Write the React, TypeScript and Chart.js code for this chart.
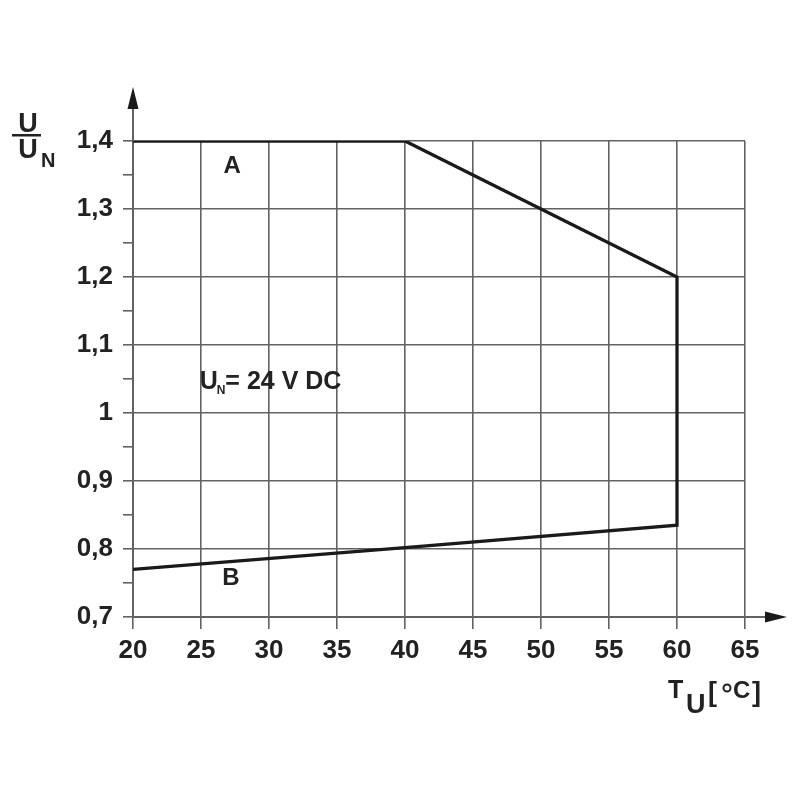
import React, { useEffect, useRef } from "react";
import { Chart, registerables } from "chart.js";

Chart.register(...registerables);

// Curve: lower limit B (left→right), then upper limit A (right→left)
const temperatures = [20, 40, 60, 60, 40, 20];
const voltageRatios = [0.77, 0.802, 0.835, 1.2, 1.4, 1.4];

const xTicks = [20, 25, 30, 35, 40, 45, 50, 55, 60, 65];
const yMajorTicks = [0.7, 0.8, 0.9, 1.0, 1.1, 1.2, 1.3, 1.4];

const curveLabels = [
  { text: "A", x: 27.3, y: 1.362 },
  { text: "B", x: 27.2, y: 0.757 },
];
const noteLabel = { main: "U", sub: "N", rest: "= 24 V DC", x: 24.9, y: 1.045 };

const FONT = '"Liberation Sans", Arial, Helvetica, sans-serif';
const GRID = "#626262";

function fmtY(v: number): string {
  const r = Math.round(v * 10) / 10;
  if (Math.abs(r - 1) < 1e-6) return "1";
  return r.toFixed(1).replace(".", ",");
}

const overlayPlugin = {
  id: "overlay",
  afterDraw(chart: any) {
    const ctx = chart.ctx;
    const area = chart.chartArea;
    const xs = chart.scales.x;
    const ys = chart.scales.y;
    ctx.save();
    // axis extensions and arrows
    ctx.strokeStyle = GRID;
    ctx.fillStyle = "#1a1a1a";
    ctx.lineWidth = 2;
    ctx.beginPath();
    ctx.moveTo(area.left, area.top);
    ctx.lineTo(area.left, area.top - 38);
    ctx.moveTo(area.right, area.bottom);
    ctx.lineTo(area.right + 25, area.bottom);
    ctx.stroke();
    // y arrow
    ctx.beginPath();
    ctx.moveTo(area.left, area.top - 54);
    ctx.lineTo(area.left - 5.5, area.top - 32);
    ctx.lineTo(area.left + 5.5, area.top - 32);
    ctx.closePath();
    ctx.fill();
    // x arrow
    ctx.beginPath();
    ctx.moveTo(area.right + 42, area.bottom);
    ctx.lineTo(area.right + 20, area.bottom - 5.5);
    ctx.lineTo(area.right + 20, area.bottom + 5.5);
    ctx.closePath();
    ctx.fill();

    ctx.fillStyle = "#222";
    ctx.textBaseline = "middle";
    // curve labels
    ctx.font = `bold 24px ${FONT}`;
    ctx.textAlign = "center";
    for (const l of curveLabels) {
      ctx.fillText(l.text, xs.getPixelForValue(l.x), ys.getPixelForValue(l.y));
    }
    // U_N = 24 V DC
    let px = xs.getPixelForValue(noteLabel.x);
    const py = ys.getPixelForValue(noteLabel.y);
    ctx.textAlign = "left";
    ctx.font = `bold 25px ${FONT}`;
    ctx.fillText(noteLabel.main, px, py);
    px += ctx.measureText(noteLabel.main).width - 1;
    ctx.font = `bold 12px ${FONT}`;
    ctx.fillText(noteLabel.sub, px, py + 8);
    px += ctx.measureText(noteLabel.sub).width;
    ctx.font = `bold 25px ${FONT}`;
    ctx.fillText(noteLabel.rest, px, py);

    // y-axis title U / U_N
    ctx.textBaseline = "alphabetic";
    ctx.textAlign = "center";
    ctx.font = `bold 27px ${FONT}`;
    ctx.fillText("U", 28, 132);
    ctx.fillRect(12, 134, 29, 2.5);
    ctx.fillText("U", 28, 158);
    ctx.font = `bold 20px ${FONT}`;
    ctx.textAlign = "left";
    ctx.fillText("N", 41, 167);

    // x-axis title T_U [°C]
    ctx.textAlign = "left";
    ctx.font = `bold 25px ${FONT}`;
    ctx.fillText("T", 668, 698);
    ctx.font = `bold 27px ${FONT}`;
    ctx.fillText("U", 686, 713);
    ctx.font = `bold 27px ${FONT}`;
    ctx.fillText("[", 708, 701);
    ctx.font = `bold 24px ${FONT}`;
    ctx.fillText("C", 733, 698);
    ctx.font = `bold 27px ${FONT}`;
    ctx.fillText("]", 752, 701);
    ctx.strokeStyle = "#222";
    ctx.lineWidth = 2;
    ctx.beginPath();
    ctx.arc(727, 688, 3.5, 0, Math.PI * 2);
    ctx.stroke();
    ctx.restore();
  },
};

export default function App() {
  const ref = useRef<HTMLCanvasElement>(null);
  useEffect(() => {
    if (!ref.current) return;
    const chart = new Chart(ref.current, {
      type: "scatter",
      data: {
        datasets: [
          {
            data: temperatures.map((t, i) => ({ x: t, y: voltageRatios[i] })),
            showLine: true,
            borderColor: "#1a1a1a",
            borderWidth: 3.3,
            pointRadius: 0,
            fill: false,
            tension: 0,
          },
        ],
      },
      options: {
        responsive: false,
        animation: false,
        devicePixelRatio: 1,
        layout: { padding: { left: 0, top: 141, right: 55, bottom: 0 } },
        plugins: { legend: { display: false }, tooltip: { enabled: false } },
        scales: {
          x: {
            type: "linear",
            min: 20,
            max: 65,
            afterBuildTicks: (s: any) => {
              s.ticks = xTicks.map((v) => ({ value: v }));
            },
            afterFit: (s: any) => {
              s.height = 183;
            },
            ticks: {
              color: "#222",
              font: { family: FONT, size: 26, weight: "bold" },
              padding: 6,
              maxRotation: 0,
              autoSkip: false,
              callback: (v: any) => String(v),
            },
            grid: { color: GRID, lineWidth: 1.6, tickLength: 12, tickColor: GRID },
            border: { color: GRID, width: 2 },
          },
          y: {
            type: "linear",
            min: 0.7,
            max: 1.4,
            afterBuildTicks: (s: any) => {
              const t: any[] = [];
              for (let i = 0; i <= 14; i++) t.push({ value: Math.round((0.7 + i * 0.05) * 100) / 100 });
              s.ticks = t;
            },
            afterFit: (s: any) => {
              s.width = 133;
            },
            ticks: {
              color: "#222",
              font: { family: FONT, size: 26, weight: "bold" },
              padding: 10,
              autoSkip: false,
              callback: (v: any) => {
                const isMajor = yMajorTicks.some((m) => Math.abs(m - v) < 1e-6);
                return isMajor ? fmtY(v) : "";
              },
            },
            grid: {
              color: (c: any) => {
                const v = c.tick ? c.tick.value : 0;
                return yMajorTicks.some((m) => Math.abs(m - v) < 1e-6) ? GRID : "rgba(0,0,0,0)";
              },
              tickColor: GRID,
              lineWidth: 1.6,
              tickLength: 10,
            },
            border: { color: GRID, width: 2 },
          },
        },
      },
      plugins: [overlayPlugin],
    });
    return () => chart.destroy();
  }, []);
  return (
    <div style={{ position: "absolute", left: 0, top: 0, width: 800, height: 800, background: "#fff" }}>
      <canvas ref={ref} width={800} height={800} />
    </div>
  );
}
